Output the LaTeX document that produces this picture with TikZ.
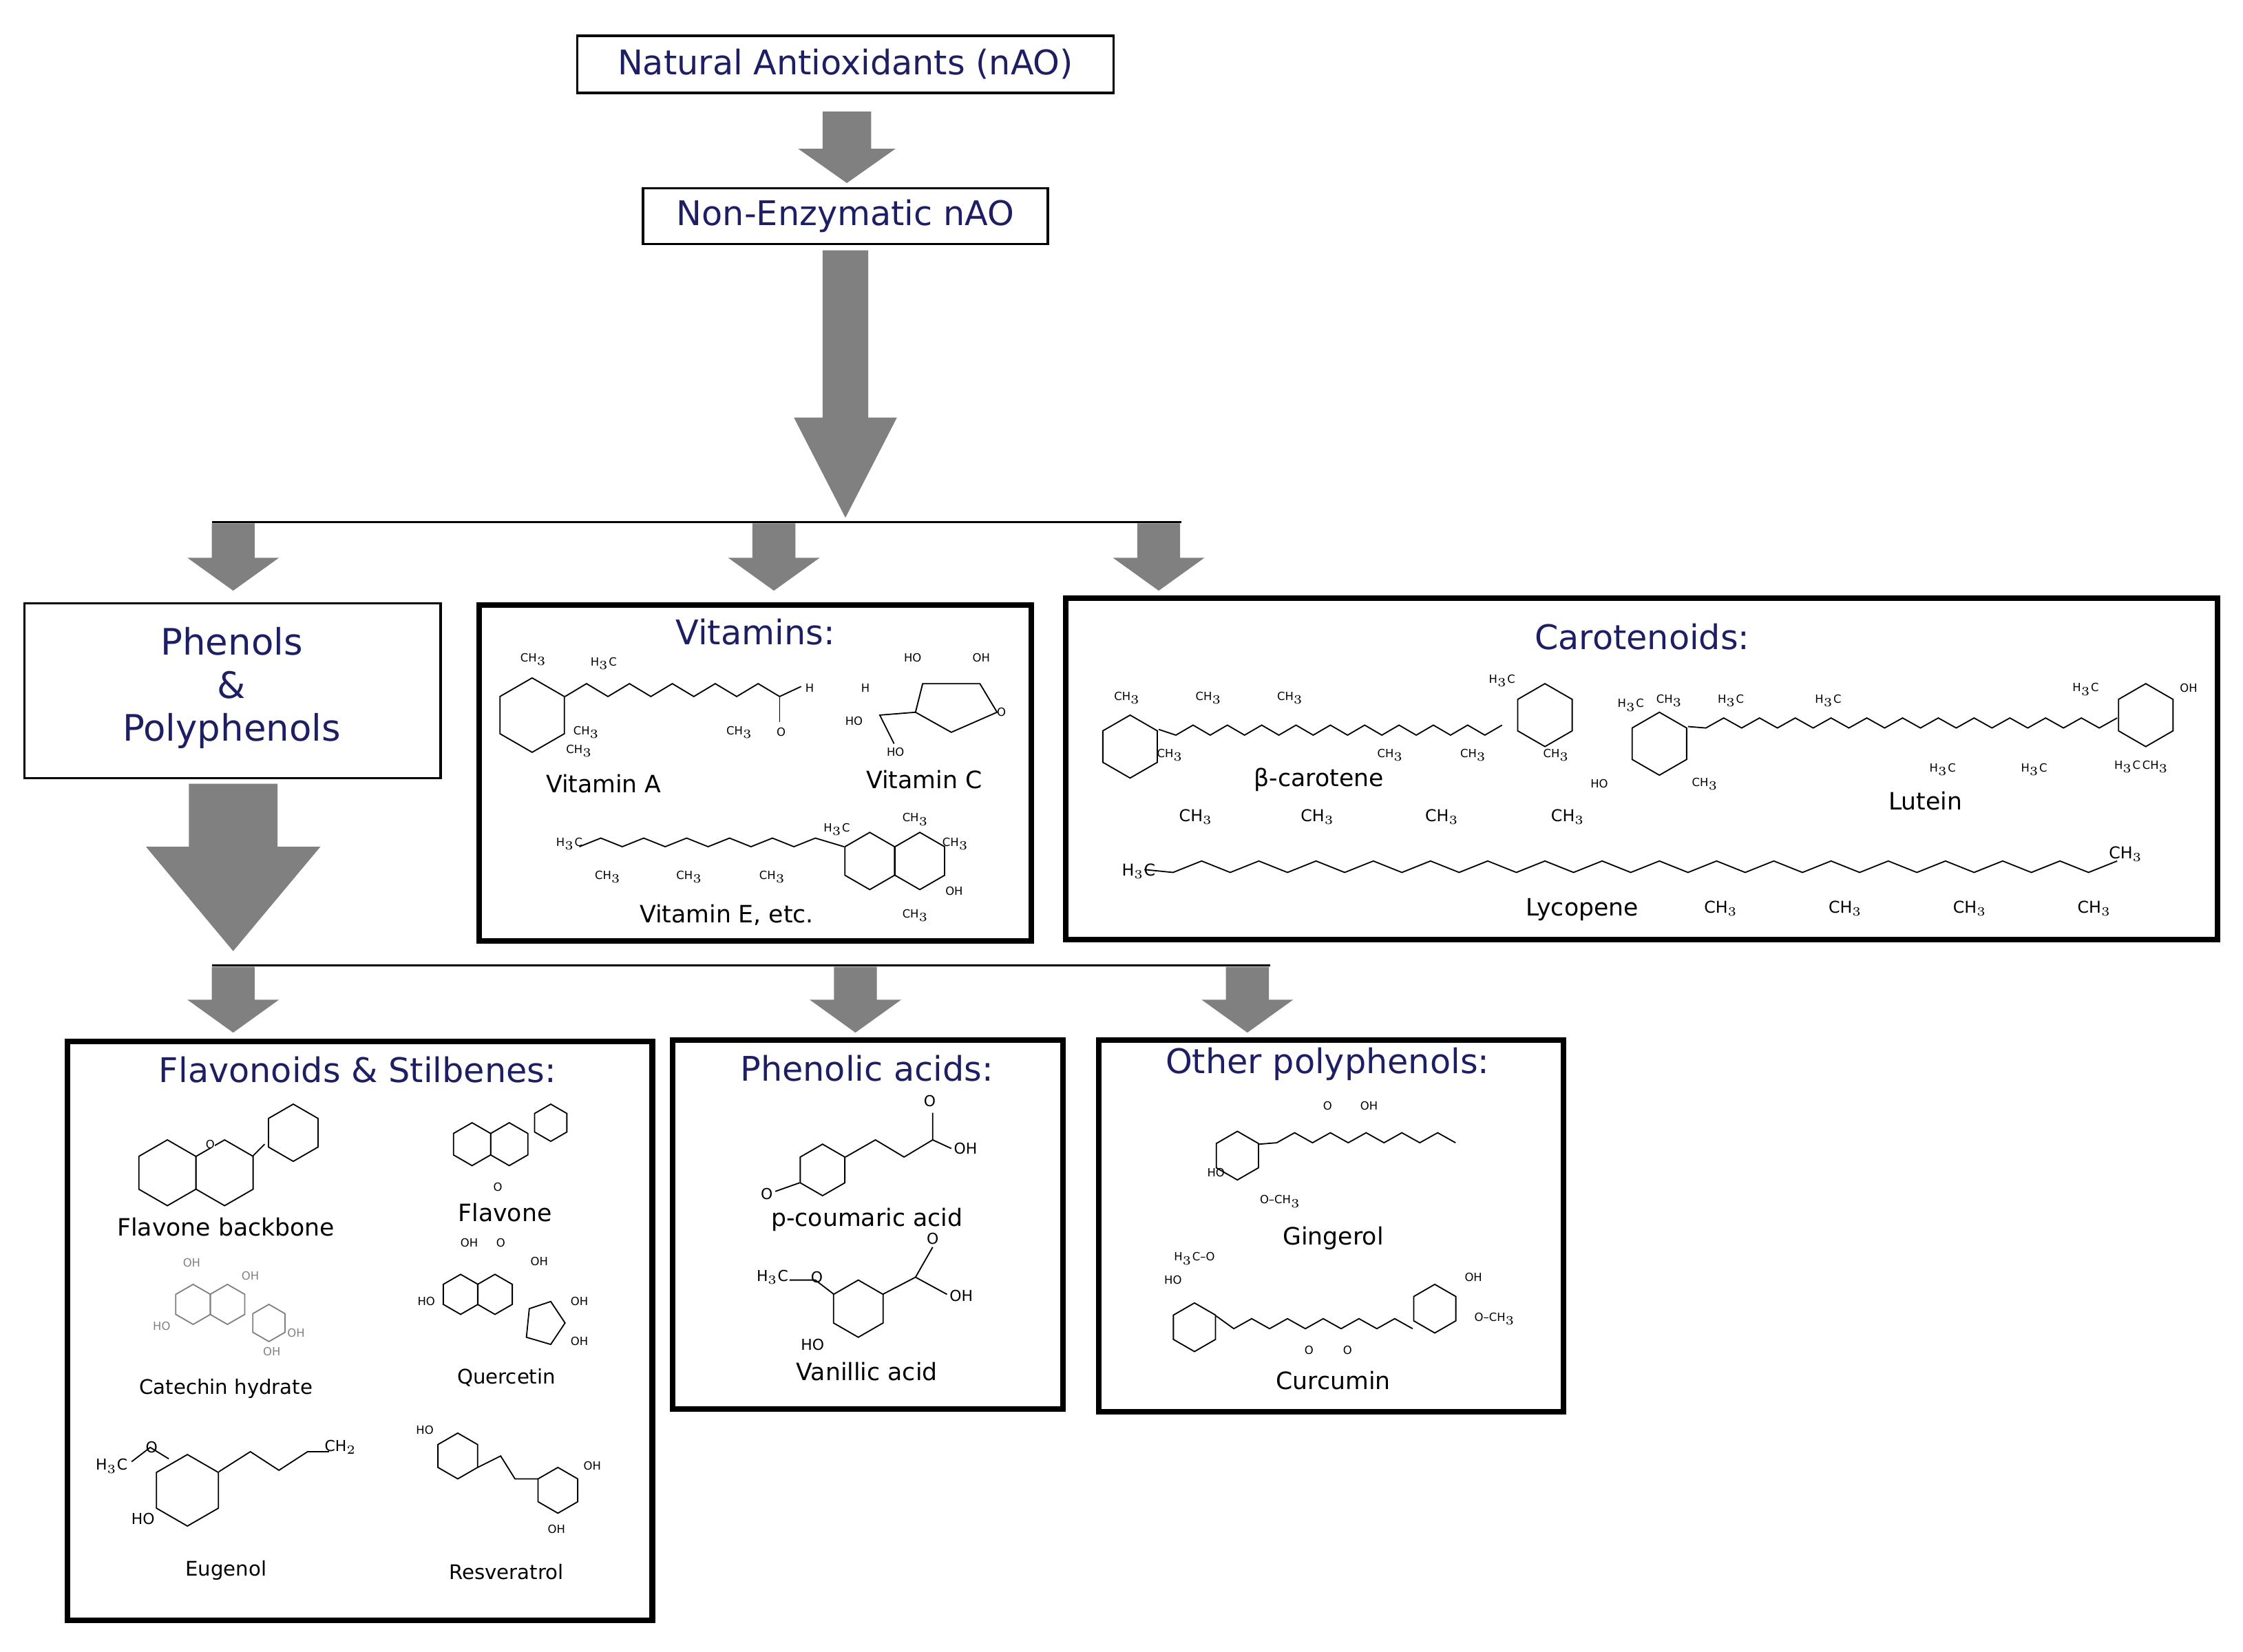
\documentclass[tikz,border=0pt]{standalone}
\usepackage{fontspec}
\setmainfont{DejaVu Sans}
\definecolor{navy}{RGB}{30,30,100}
\definecolor{arr}{RGB}{128,128,128}
\tikzset{
  x=0.2mm, y=-0.2mm,
  thinbox/.style={draw, line width=0.9pt, inner sep=0pt},
  thickbox/.style={draw, line width=2.2pt},
  head/.style={text=navy, font=\fontsize{13.5}{15}\selectfont},
  cname/.style={font=\fontsize{9.5}{11}\selectfont},
  chem/.style={font=\fontsize{4.5}{5}\selectfont, inner sep=0pt},
  mol/.style={line width=0.5pt},
  hex/.pic={\draw[mol] (30:1)--(90:1)--(150:1)--(210:1)--(270:1)--(330:1)--cycle;},
}
% fat arrow: x, top, bottom, shaft half width, head half width, head start
\newcommand\fatarr[6]{\fill[arr] (#1-#4,#2) -- (#1+#4,#2) -- (#1+#4,#6) -- (#1+#5,#6) -- (#1,#3) -- (#1-#5,#6) -- (#1-#4,#6) -- cycle;}
\begin{document}
\begin{tikzpicture}
\useasboundingbox (0,0) rectangle (1568,1155);
% top boxes
\node[thinbox, minimum width=75mm, minimum height=8mm, head] (nao) at (591,45) {Natural Antioxidants (nAO)};
\node[thinbox, minimum width=56.6mm, minimum height=7.8mm, head] (nen) at (591,151) {Non-Enzymatic nAO};
\fatarr{592}{78}{128}{17}{34}{104}
\fatarr{591}{175}{362}{16}{36}{292}
\draw[line width=1pt] (148,365) -- (826,365);
\fatarr{163}{366}{413}{15}{32}{390}
\fatarr{541}{366}{413}{15}{32}{390}
\fatarr{810}{366}{413}{15}{32}{390}
% second row boxes
\draw[line width=0.9pt] (17,422) rectangle (308,544);
\node[head, align=center, font=\fontsize{14.5}{16}\selectfont] (phen) at (162,481) {Phenols\\[1pt]\&\\[1pt]Polyphenols};
\draw[thickbox] (335,423) rectangle (721,658);
\node[head] (vit) at (528,442) {Vitamins:};
\draw[thickbox] (745,418) rectangle (1550,657);
\node[head] (car) at (1148,445) {Carotenoids:};
\fatarr{163}{548}{665}{31}{61}{592}
\draw[line width=1pt] (148,675) -- (888,675);
\fatarr{163}{676}{722}{15}{32}{699}
\fatarr{598}{676}{722}{15}{32}{699}
\fatarr{872}{676}{722}{15}{32}{699}
% third row boxes
\draw[thickbox] (47,728) rectangle (456,1133);
\node[head] (flav) at (250,748) {Flavonoids \& Stilbenes:};
\draw[thickbox] (470,727) rectangle (743,985);
\node[head] (pac) at (606,747) {Phenolic acids:};
\draw[thickbox] (768,727) rectangle (1093,987);
\node[head] (oth) at (928,744) {Other polyphenols:};

% ---- Vitamins
\pic[scale=26] at (372,500) {hex};
\draw[mol] (395,487) -- (410,478) -- (425,487) -- (440,478) -- (455,487) -- (470,478) -- (485,487) -- (500,478) -- (515,487) -- (530,478) -- (545,487) -- (560,480);
\draw[mol] (545,487) -- (545,505);
\node[chem] (va1) at (373,461) {CH$_3$};
\node[chem] (va2) at (422,464) {H$_3$C};
\node[chem] (va3) at (410,512) {CH$_3$};
\node[chem] (va4) at (405,525) {CH$_3$};
\node[chem] (va5) at (517,512) {CH$_3$};
\node[chem] (va6) at (566,481) {H};
\node[chem] (va7) at (546,512) {O};
\node[cname] (vaa) at (422,548) {Vitamin A};
\draw[mol] (645,478) -- (685,478) -- (697,498) -- (665,512) -- (640,498) -- cycle;
\draw[mol] (640,498) -- (615,500) -- (625,520);
\node[chem] (vc1) at (638,460) {HO};
\node[chem] (vc2) at (686,460) {OH};
\node[chem] (vc3) at (605,481) {H};
\node[chem] (vc4) at (597,504) {HO};
\node[chem] (vc5) at (626,526) {HO};
\node[chem] (vc6) at (700,498) {O};
\node[cname] (vcc) at (646,545) {Vitamin C};
\draw[mol] (405,592) -- (420,586) -- (435,592) -- (450,586) -- (465,592) -- (480,586) -- (495,592) -- (510,586) -- (525,592) -- (540,586) -- (555,592) -- (570,586) -- (590,592);
\pic[scale=20] at (608,602) {hex};
\pic[scale=20] at (643,602) {hex};
\node[chem] (ve1) at (398,590) {H$_3$C};
\node[chem] (ve2) at (425,613) {CH$_3$};
\node[chem] (ve3) at (482,613) {CH$_3$};
\node[chem] (ve4) at (540,613) {CH$_3$};
\node[chem] (ve5) at (585,580) {H$_3$C};
\node[chem] (ve6) at (640,573) {CH$_3$};
\node[chem] (ve7) at (668,590) {CH$_3$};
\node[chem] (ve8) at (667,623) {OH};
\node[chem] (ve9) at (640,640) {CH$_3$};
\node[cname] (vee) at (508,640) {Vitamin E, etc.};

% ---- Carotenoids
\pic[scale=22] at (790,522) {hex};
\draw[mol] (810,510) \foreach \i in {1,...,20} {-- ({810+12*\i},{510+7*mod(\i,2)-3})};
\pic[scale=22] at (1080,500) {hex};
\node[chem] (bc1) at (788,488) {CH$_3$};
\node[chem] (bc2) at (845,488) {CH$_3$};
\node[chem] (bc3) at (902,488) {CH$_3$};
\node[chem] (bc4) at (972,528) {CH$_3$};
\node[chem] (bc5) at (1030,528) {CH$_3$};
\node[chem] (bc6) at (1050,476) {H$_3$C};
\node[chem] (bc7) at (1088,528) {CH$_3$};
\node[chem] (bc8) at (818,528) {CH$_3$};
\node[cname] (bcc) at (922,545) {β-carotene};
\pic[scale=22] at (1160,520) {hex};
\draw[mol] (1180,508) \foreach \i in {1,...,24} {-- ({1180+12.5*\i},{505+7*mod(\i,2)-3})};
\pic[scale=22] at (1500,500) {hex};
\node[chem] (lu1) at (1140,493) {H$_3$C};
\node[chem] (lu2) at (1167,490) {CH$_3$};
\node[chem] (lu3) at (1210,490) {H$_3$C};
\node[chem] (lu4) at (1278,490) {H$_3$C};
\node[chem] (lu5) at (1118,548) {HO};
\node[chem] (lu6) at (1192,548) {CH$_3$};
\node[chem] (lu7) at (1358,538) {H$_3$C};
\node[chem] (lu8) at (1422,538) {H$_3$C};
\node[chem] (lu9) at (1458,482) {H$_3$C};
\node[chem] (lu10) at (1530,481) {OH};
\node[chem] (lu11) at (1497,536) {H$_3$C\,CH$_3$};
\node[cname] (luu) at (1346,560) {Lutein};
\draw[mol] (800,608) \foreach \i in {1,...,34} {-- ({800+20*\i},{606+8*mod(\i,2)-4})};
\node[font=\fontsize{6.5}{7}\selectfont, inner sep=0pt] (ly1) at (836,571) {CH$_3$};
\node[font=\fontsize{6.5}{7}\selectfont, inner sep=0pt] (ly2) at (921,571) {CH$_3$};
\node[font=\fontsize{6.5}{7}\selectfont, inner sep=0pt] (ly3) at (1008,571) {CH$_3$};
\node[font=\fontsize{6.5}{7}\selectfont, inner sep=0pt] (ly4) at (1096,571) {CH$_3$};
\node[font=\fontsize{6.5}{7}\selectfont, inner sep=0pt] (ly5) at (796,609) {H$_3$C};
\node[font=\fontsize{6.5}{7}\selectfont, inner sep=0pt] (ly6) at (1203,635) {CH$_3$};
\node[font=\fontsize{6.5}{7}\selectfont, inner sep=0pt] (ly7) at (1290,635) {CH$_3$};
\node[font=\fontsize{6.5}{7}\selectfont, inner sep=0pt] (ly8) at (1377,635) {CH$_3$};
\node[font=\fontsize{6.5}{7}\selectfont, inner sep=0pt] (ly9) at (1464,635) {CH$_3$};
\node[font=\fontsize{6.5}{7}\selectfont, inner sep=0pt] (ly10) at (1486,597) {CH$_3$};
\node[cname] (lyy) at (1106,636) {Lycopene};

% ---- Flavonoids & Stilbenes
\pic[scale=23] at (117,820) {hex};
\pic[scale=23] at (157,820) {hex};
\pic[scale=20] at (205,792) {hex};
\draw[mol] (177,808) -- (185,800);
\node[chem, fill=white] (fb1) at (147,800) {O};
\node[cname] (fbb) at (158,858) {Flavone backbone};
\pic[scale=15] at (330,800) {hex};
\pic[scale=15] at (356,800) {hex};
\pic[scale=13] at (385,785) {hex};
\node[chem] (fl1) at (348,830) {O};
\node[cname] (fll) at (353,848) {Flavone};
\begin{scope}[draw=gray]
\pic[scale=14] at (135,912) {hex};
\pic[scale=14] at (159,912) {hex};
\pic[scale=13] at (188,925) {hex};
\end{scope}
\node[chem, text=gray] (ca1) at (134,883) {OH};
\node[chem, text=gray] (ca2) at (113,927) {HO};
\node[chem, text=gray] (ca3) at (175,892) {OH};
\node[chem, text=gray] (ca4) at (207,932) {OH};
\node[chem, text=gray] (ca5) at (190,945) {OH};
\node[font=\fontsize{8}{9}\selectfont] (caa) at (158,971) {Catechin hydrate};
\pic[scale=14] at (322,905) {hex};
\pic[scale=14] at (346,905) {hex};
\draw[mol] (370,915) -- (385,910) -- (395,925) -- (385,940) -- (368,935) -- cycle;
\node[chem] (qu1) at (328,869) {OH};
\node[chem] (qu2) at (350,869) {O};
\node[chem] (qu3) at (377,882) {OH};
\node[chem] (qu4) at (298,910) {HO};
\node[chem] (qu5) at (405,910) {OH};
\node[chem] (qu6) at (405,938) {OH};
\node[font=\fontsize{8}{9}\selectfont] (quu) at (354,963) {Quercetin};
\pic[scale=25] at (131,1042) {hex};
\draw[mol] (153,1029) -- (175,1015) -- (195,1028) -- (215,1015) -- (230,1015);
\draw[mol] (118,1020) -- (105,1012) -- (92,1022);
\node[chem, font=\fontsize{6}{7}\selectfont] (eu1) at (78,1025) {H$_3$C};
\node[chem, font=\fontsize{6}{7}\selectfont] (eu2) at (106,1012) {O};
\node[chem, font=\fontsize{6}{7}\selectfont] (eu3) at (238,1012) {CH$_2$};
\node[chem, font=\fontsize{6}{7}\selectfont] (eu4) at (100,1062) {HO};
\node[font=\fontsize{8}{9}\selectfont] (euu) at (158,1098) {Eugenol};
\pic[scale=16] at (320,1018) {hex};
\pic[scale=16] at (390,1042) {hex};
\draw[mol] (334,1026) -- (350,1018) -- (360,1034) -- (376,1034);
\node[chem] (re1) at (297,1000) {HO};
\node[chem] (re2) at (414,1025) {OH};
\node[chem] (re3) at (389,1069) {OH};
\node[font=\fontsize{8}{9}\selectfont] (ree) at (354,1099) {Resveratrol};

% ---- Phenolic acids
\pic[scale=18] at (575,818) {hex};
\draw[mol] (591,809) -- (612,797) -- (632,809) -- (652,797) -- (652,778);
\draw[mol] (652,797) -- (665,803);
\draw[mol] (559,827) -- (542,833);
\node[chem, font=\fontsize{6}{7}\selectfont] (pc1) at (536,835) {O};
\node[chem, font=\fontsize{6}{7}\selectfont] (pc2) at (650,770) {O};
\node[chem, font=\fontsize{6}{7}\selectfont] (pc3) at (675,803) {OH};
\node[cname] (pcc) at (606,853) {p-coumaric acid};
\pic[scale=20] at (600,915) {hex};
\draw[mol] (617,905) -- (640,893) -- (652,872);
\draw[mol] (640,893) -- (662,905);
\draw[mol] (583,905) -- (570,895) -- (552,895);
\node[chem, font=\fontsize{6}{7}\selectfont] (va8) at (540,893) {H$_3$C};
\node[chem, font=\fontsize{6}{7}\selectfont] (va9) at (571,893) {O};
\node[chem, font=\fontsize{6}{7}\selectfont] (va10) at (652,866) {O};
\node[chem, font=\fontsize{6}{7}\selectfont] (va11) at (672,906) {OH};
\node[chem, font=\fontsize{6}{7}\selectfont] (va12) at (568,940) {HO};
\node[cname] (vaaa) at (606,959) {Vanillic acid};

% ---- Other polyphenols
\pic[scale=17] at (865,808) {hex};
\draw[mol] (880,800) \foreach \i in {1,...,11} {-- ({880+12.5*\i},{795+7*mod(\i,2)-3})};
\node[chem] (gi1) at (928,773) {O};
\node[chem] (gi2) at (957,773) {OH};
\node[chem] (gi3) at (850,820) {HO};
\node[chem] (gi4) at (895,840) {O--CH$_3$};
\node[cname] (gii) at (932,866) {Gingerol};
\pic[scale=17] at (835,928) {hex};
\pic[scale=17] at (1003,915) {hex};
\draw[mol] (850,920) \foreach \i in {1,...,11} {-- ({850+12.5*\i},{925+7*mod(\i,2)-3})};
\node[chem] (cu1) at (835,880) {H$_3$C--O};
\node[chem] (cu2) at (820,895) {HO};
\node[chem] (cu3) at (915,944) {O};
\node[chem] (cu4) at (942,944) {O};
\node[chem] (cu5) at (1030,893) {OH};
\node[chem] (cu6) at (1045,922) {O--CH$_3$};
\node[cname] (cuu) at (932,965) {Curcumin};
\end{tikzpicture}
\end{document}
